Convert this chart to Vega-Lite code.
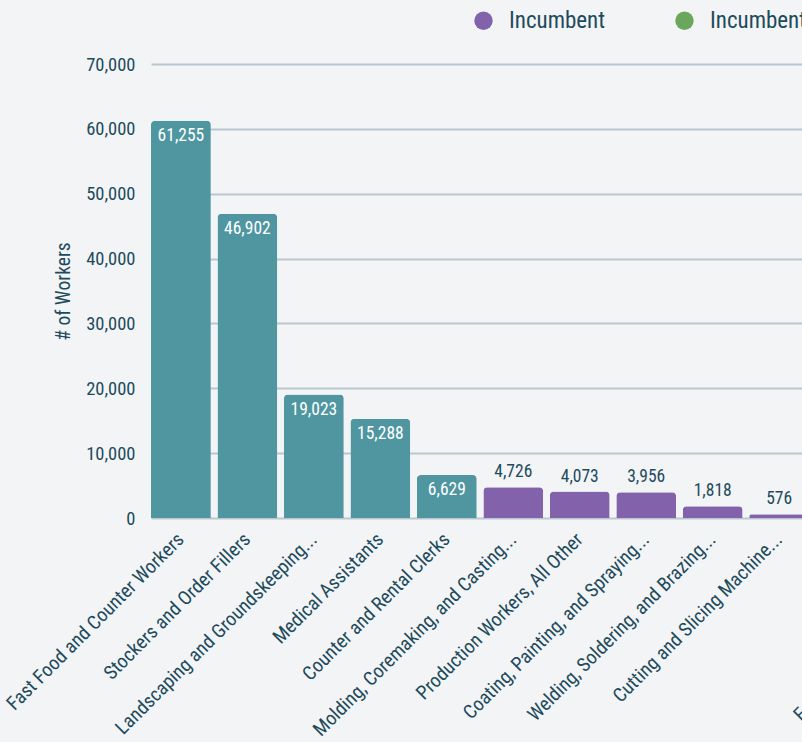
{
  "$schema": "https://vega.github.io/schema/vega-lite/v6.json",
  "autosize": {"type": "none"},
  "width": 651,
  "height": 454,
  "padding": {"left": 151, "top": 64, "right": 0, "bottom": 224},
  "background": "#f3f4f6",
  "config": {
    "view": {"stroke": null},
    "font": "Roboto Condensed, Liberation Sans Narrow, DejaVu Sans Condensed, Roboto, sans-serif"
  },
  "data": {
    "values": [
      {"occupation": "Fast Food and Counter Workers", "workers": 61255, "group": "Target"},
      {"occupation": "Stockers and Order Fillers", "workers": 46902, "group": "Target"},
      {"occupation": "Landscaping and Groundskeeping...", "workers": 19023, "group": "Target"},
      {"occupation": "Medical Assistants", "workers": 15288, "group": "Target"},
      {"occupation": "Counter and Rental Clerks", "workers": 6629, "group": "Target"},
      {"occupation": "Molding, Coremaking, and Casting...", "workers": 4726, "group": "Incumbent"},
      {"occupation": "Production Workers, All Other", "workers": 4073, "group": "Incumbent"},
      {"occupation": "Coating, Painting, and Spraying...", "workers": 3956, "group": "Incumbent"},
      {"occupation": "Welding, Soldering, and Brazing...", "workers": 1818, "group": "Incumbent"},
      {"occupation": "Cutting and Slicing Machine...", "workers": 576, "group": "Incumbent"},
      {"occupation": "Bakers", "workers": 420, "group": "Incumbent Adjacent"},
      {"occupation": "Butchers", "workers": 350, "group": "Incumbent Adjacent"},
      {"occupation": "Food Cooking Machine Operato...", "workers": 300, "group": "Incumbent Adjacent"}
    ]
  },
  "encoding": {
    "x": {
      "field": "occupation",
      "type": "nominal",
      "sort": null,
      "scale": {"range": [0, 857.5], "paddingInner": 0.1, "paddingOuter": 0},
      "axis": {
        "title": null,
        "labelAngle": -45,
        "labelAlign": "right",
        "labelBaseline": "middle",
        "labelPadding": 18,
        "labelFontSize": 19.5,
        "labelColor": "#1d4b5c",
        "labelLimit": 400,
        "ticks": false,
        "domain": false
      }
    },
    "y": {
      "field": "workers",
      "type": "quantitative",
      "scale": {"domain": [0, 70000]},
      "axis": {
        "title": "# of Workers",
        "titleFontSize": 19.5,
        "titleFontWeight": "normal",
        "titleColor": "#1d4b5c",
        "titlePadding": 12,
        "values": [0, 10000, 20000, 30000, 40000, 50000, 60000, 70000],
        "format": ",.0f",
        "labelFontSize": 18.5,
        "labelColor": "#1d4b5c",
        "labelPadding": 16,
        "ticks": false,
        "domain": false,
        "gridColor": "#b9c8d0",
        "gridWidth": 2
      }
    }
  },
  "layer": [
    {
      "mark": {"type": "bar", "cornerRadiusTopLeft": 4, "cornerRadiusTopRight": 4},
      "encoding": {
        "color": {
          "field": "group",
          "type": "nominal",
          "scale": {
            "domain": ["Target", "Incumbent", "Incumbent Adjacent"],
            "range": ["#4f96a1", "#8262ab", "#6aa75d"]
          },
          "legend": {
            "title": null,
            "values": ["Incumbent", "Incumbent Adjacent"],
            "orient": "none",
            "legendX": 321,
            "legendY": -55,
            "direction": "horizontal",
            "symbolType": "circle",
            "symbolSize": 340,
            "symbolStrokeWidth": 0,
            "symbolOpacity": 1,
            "labelFontSize": 23,
            "labelColor": "#1d4b5c",
            "labelOffset": 14,
            "columnPadding": 67,
            "labelLimit": 300
          }
        }
      }
    },
    {
      "transform": [{"filter": "datum.workers >= 5000"}],
      "mark": {"type": "text", "baseline": "top", "dy": 6, "fontSize": 17.5, "color": "white"},
      "encoding": {"text": {"field": "workers", "type": "quantitative", "format": ","}}
    },
    {
      "transform": [{"filter": "datum.workers < 5000"}],
      "mark": {"type": "text", "baseline": "bottom", "dy": -6, "fontSize": 17.5, "color": "#1d4b5c"},
      "encoding": {"text": {"field": "workers", "type": "quantitative", "format": ","}}
    }
  ]
}
